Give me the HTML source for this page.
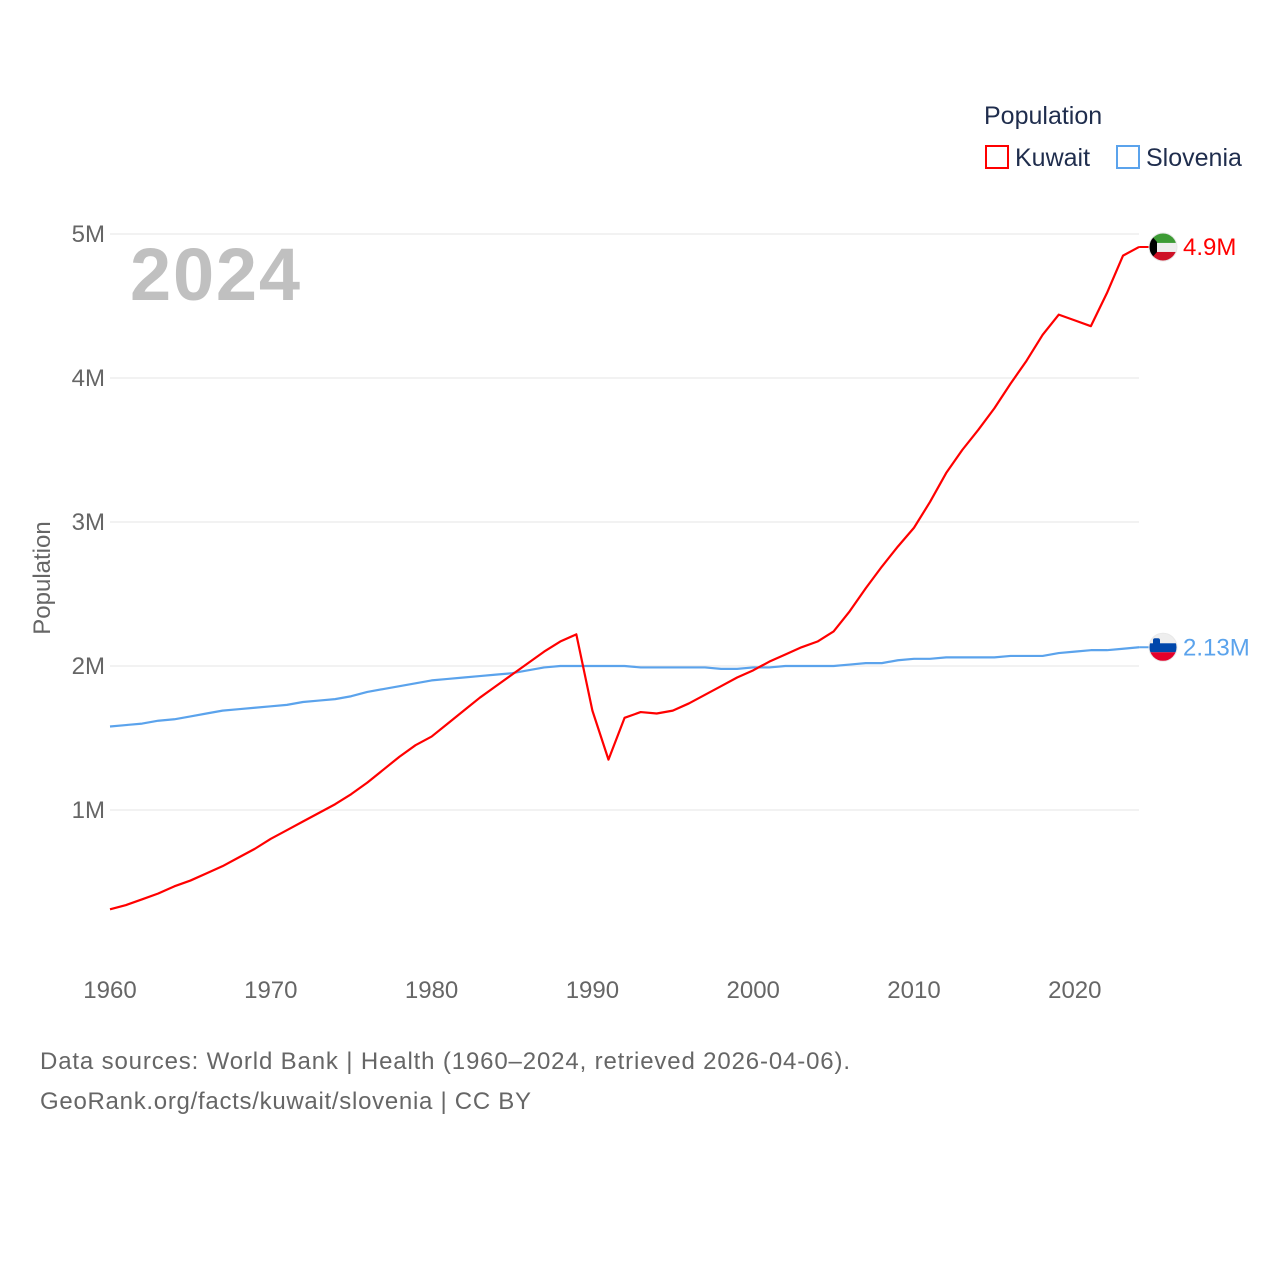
<!DOCTYPE html>
<html><head><meta charset="utf-8"><style>
body{margin:0;background:#fff;font-family:"Liberation Sans",sans-serif}
svg text{font-family:"Liberation Sans",sans-serif}
</style></head><body>
<svg id="c" width="1280" height="1280" viewBox="0 0 1280 1280">
<text x="984" y="124" font-size="25" fill="#1f2d4d">Population</text>
<g><rect x="986" y="146" width="22" height="22" fill="none" stroke="#f00" stroke-width="2"/><text x="1015" y="166" font-size="25" fill="#1f2d4d">Kuwait</text></g>
<g><rect x="1117" y="146" width="22" height="22" fill="none" stroke="#5ba3ec" stroke-width="2"/><text x="1146" y="166" font-size="25" fill="#1f2d4d">Slovenia</text></g>
<text x="130" y="300" font-size="74" font-weight="bold" fill="#c0c0c0" textLength="170">2024</text>
<text transform="translate(50,578) rotate(-90)" text-anchor="middle" font-size="24" fill="#666">Population</text>
<g id="grid"></g><g id="series"></g>
<text x="40" y="1069" font-size="24" fill="#666" textLength="810">Data sources: World Bank | Health (1960–2024, retrieved 2026-04-06).</text>
<text x="40" y="1109" font-size="24" fill="#666" textLength="491">GeoRank.org/facts/kuwait/slovenia | CC BY</text>
</svg>
<script>
const years=[];for(let y=1960;y<=2024;y++)years.push(y);
const kuwait=[0.31,0.34,0.38,0.42,0.47,0.51,0.56,0.61,0.67,0.73,
0.80,0.86,0.92,0.98,1.04,1.11,1.19,1.28,1.37,1.45,
1.51,1.60,1.69,1.78,1.86,1.94,2.02,2.10,2.17,2.22,
1.69,1.35,1.64,1.68,1.67,1.69,1.74,1.80,1.86,1.92,
1.97,2.03,2.08,2.13,2.17,2.24,2.38,2.54,2.69,2.83,
2.96,3.14,3.34,3.50,3.64,3.79,3.96,4.12,4.30,4.44,
4.40,4.36,4.59,4.85,4.91];
const slovenia=[1.58,1.59,1.60,1.62,1.63,1.65,1.67,1.69,1.70,1.71,
1.72,1.73,1.75,1.76,1.77,1.79,1.82,1.84,1.86,1.88,
1.90,1.91,1.92,1.93,1.94,1.95,1.97,1.99,2.00,2.00,
2.00,2.00,2.00,1.99,1.99,1.99,1.99,1.99,1.98,1.98,
1.99,1.99,2.00,2.00,2.00,2.00,2.01,2.02,2.02,2.04,
2.05,2.05,2.06,2.06,2.06,2.06,2.07,2.07,2.07,2.09,
2.10,2.11,2.11,2.12,2.13];
const yTicks=[1,2,3,4,5];
const xTicks=[1960,1970,1980,1990,2000,2010,2020];
const X=y=>110+(y-1960)*16.08;
const Y=v=>954-v*144;
const NS="http://www.w3.org/2000/svg";
const grid=document.getElementById('grid'),ser=document.getElementById('series');
function mk(tag,attrs,parent){const e=document.createElementNS(NS,tag);for(const k in attrs)e.setAttribute(k,attrs[k]);parent.appendChild(e);return e;}
yTicks.forEach(v=>{
 const l=mk('line',{x1:110,x2:1139,y1:Y(v),y2:Y(v),stroke:'#e6e6e6','stroke-width':1},grid);
 
 
 const t=mk('text',{x:105,y:Y(v)+8,'text-anchor':'end','font-size':24,fill:'#666'},grid);
 t.textContent=v+'M';
 
 
});
xTicks.forEach(y=>{
 const t=mk('text',{x:X(y),y:998,'text-anchor':'middle','font-size':24,fill:'#666'},grid);
 t.textContent=y;
 
 
});
function line(vals,color,name){
 const p=mk('polyline',{points:vals.map((v,i)=>X(years[i])+','+Y(v)).join(' '),fill:'none',stroke:color,'stroke-width':2.2,'stroke-linejoin':'round'},ser);
 
 
}
line(slovenia,'#5ba3ec','slovenia-line');
line(kuwait,'#f00','kuwait-line');
function endMark(v,color,name,label,flag){
 const cx=1163,cy=Y(v);
 mk('line',{x1:X(2024),x2:cx,y1:cy,y2:cy,stroke:color,'stroke-width':2},ser);
 const g=mk('g',{},ser);
 
 
 const id='clip'+name;
 const cp=mk('clipPath',{id:id},g);mk('circle',{cx:cx,cy:cy,r:14},cp);
 const gg=mk('g',{'clip-path':'url(#'+id+')'},g);
 flag(gg,cx,cy);
 mk('circle',{cx:cx,cy:cy,r:14,fill:'none',stroke:'#e8e8e8','stroke-width':1},g);
 const t=mk('text',{x:1183,y:cy+8,'font-size':24,fill:color},ser);
 t.textContent=label;
 
 
}
endMark(kuwait[kuwait.length-1],'#f00','kuwait','4.9M',(g,cx,cy)=>{
 mk('rect',{x:cx-14,y:cy-14,width:28,height:10,fill:'#3d9b35'},g);
 mk('rect',{x:cx-14,y:cy-4,width:28,height:9,fill:'#eee'},g);
 mk('rect',{x:cx-14,y:cy+5,width:28,height:10,fill:'#ce1126'},g);
 mk('polygon',{points:(cx-14)+','+(cy-14)+' '+(cx-6)+','+(cy-5)+' '+(cx-6)+','+(cy+5)+' '+(cx-14)+','+(cy+14),fill:'#000'},g);
});
endMark(slovenia[slovenia.length-1],'#5ba3ec','slovenia','2.13M',(g,cx,cy)=>{
 mk('rect',{x:cx-14,y:cy-14,width:28,height:10,fill:'#eee'},g);
 mk('rect',{x:cx-14,y:cy-4,width:28,height:9,fill:'#0047ab'},g);
 mk('rect',{x:cx-14,y:cy+5,width:28,height:10,fill:'#e4002b'},g);
 mk('rect',{x:cx-10,y:cy-9,width:7,height:7,fill:'#0047ab',rx:2},g);
});
</script>
</body></html>
